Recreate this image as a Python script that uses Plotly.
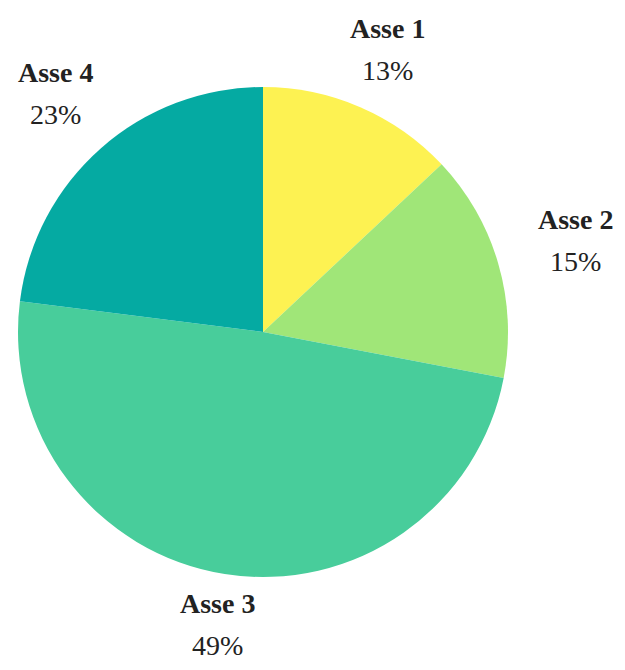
import math
import plotly.graph_objects as go

labels = ["Asse 1", "Asse 2", "Asse 3", "Asse 4"]
values = [13, 15, 49, 23]
colors = ["#fdf252", "#a0e678", "#48cd9b", "#05aaa2"]

# figure sized so the page (with its 8px body margin) fits the 625x670 window
PAD = 8
W, H = 625 - 2 * PAD, 670 - 2 * PAD
cx, cy, r = 263 - PAD, 332 - PAD, 245

fig = go.Figure(go.Pie(
    labels=labels,
    values=values,
    sort=False,
    direction="clockwise",
    rotation=0,
    domain=dict(x=[(cx - r) / W, (cx + r) / W],
                y=[(H - cy - r) / H, (H - cy + r) / H]),
    marker=dict(colors=colors, line=dict(width=0)),
    textinfo="none",
    showlegend=False,
    hoverinfo="label+percent",
))

# outside labels at each slice's mid-angle, kept inside the figure
total = sum(values)
cum = 0
font_b = dict(family="Liberation Serif", size=28, color="#222222")
for lab, v in zip(labels, values):
    mid = (cum + v / 2) / total * 2 * math.pi
    cum += v
    s, c = math.sin(mid), math.cos(mid)
    ext = math.sqrt((63 * s) ** 2 + (30 * c) ** 2)
    d = r + 25 + ext
    px, py = cx + d * s + 2, cy - d * c + 2 - 3 * c
    px = min(max(px, 42), W - 42)
    py = min(max(py, 40), H - 38)
    ax, ay = px / W, 1 - py / H
    fig.add_annotation(x=ax, y=ay, xref="paper", yref="paper",
                       text="<b>%s</b>" % lab, showarrow=False,
                       font=font_b, yshift=21, xanchor="center", yanchor="middle")
    fig.add_annotation(x=ax, y=ay, xref="paper", yref="paper",
                       text="%d%%" % round(v / total * 100), showarrow=False,
                       font=font_b, yshift=-21, xanchor="center", yanchor="middle")

fig.update_layout(
    width=W, height=H,
    margin=dict(l=0, r=0, t=0, b=0),
    paper_bgcolor="white",
    plot_bgcolor="white",
)
fig.write_html("out.html")
